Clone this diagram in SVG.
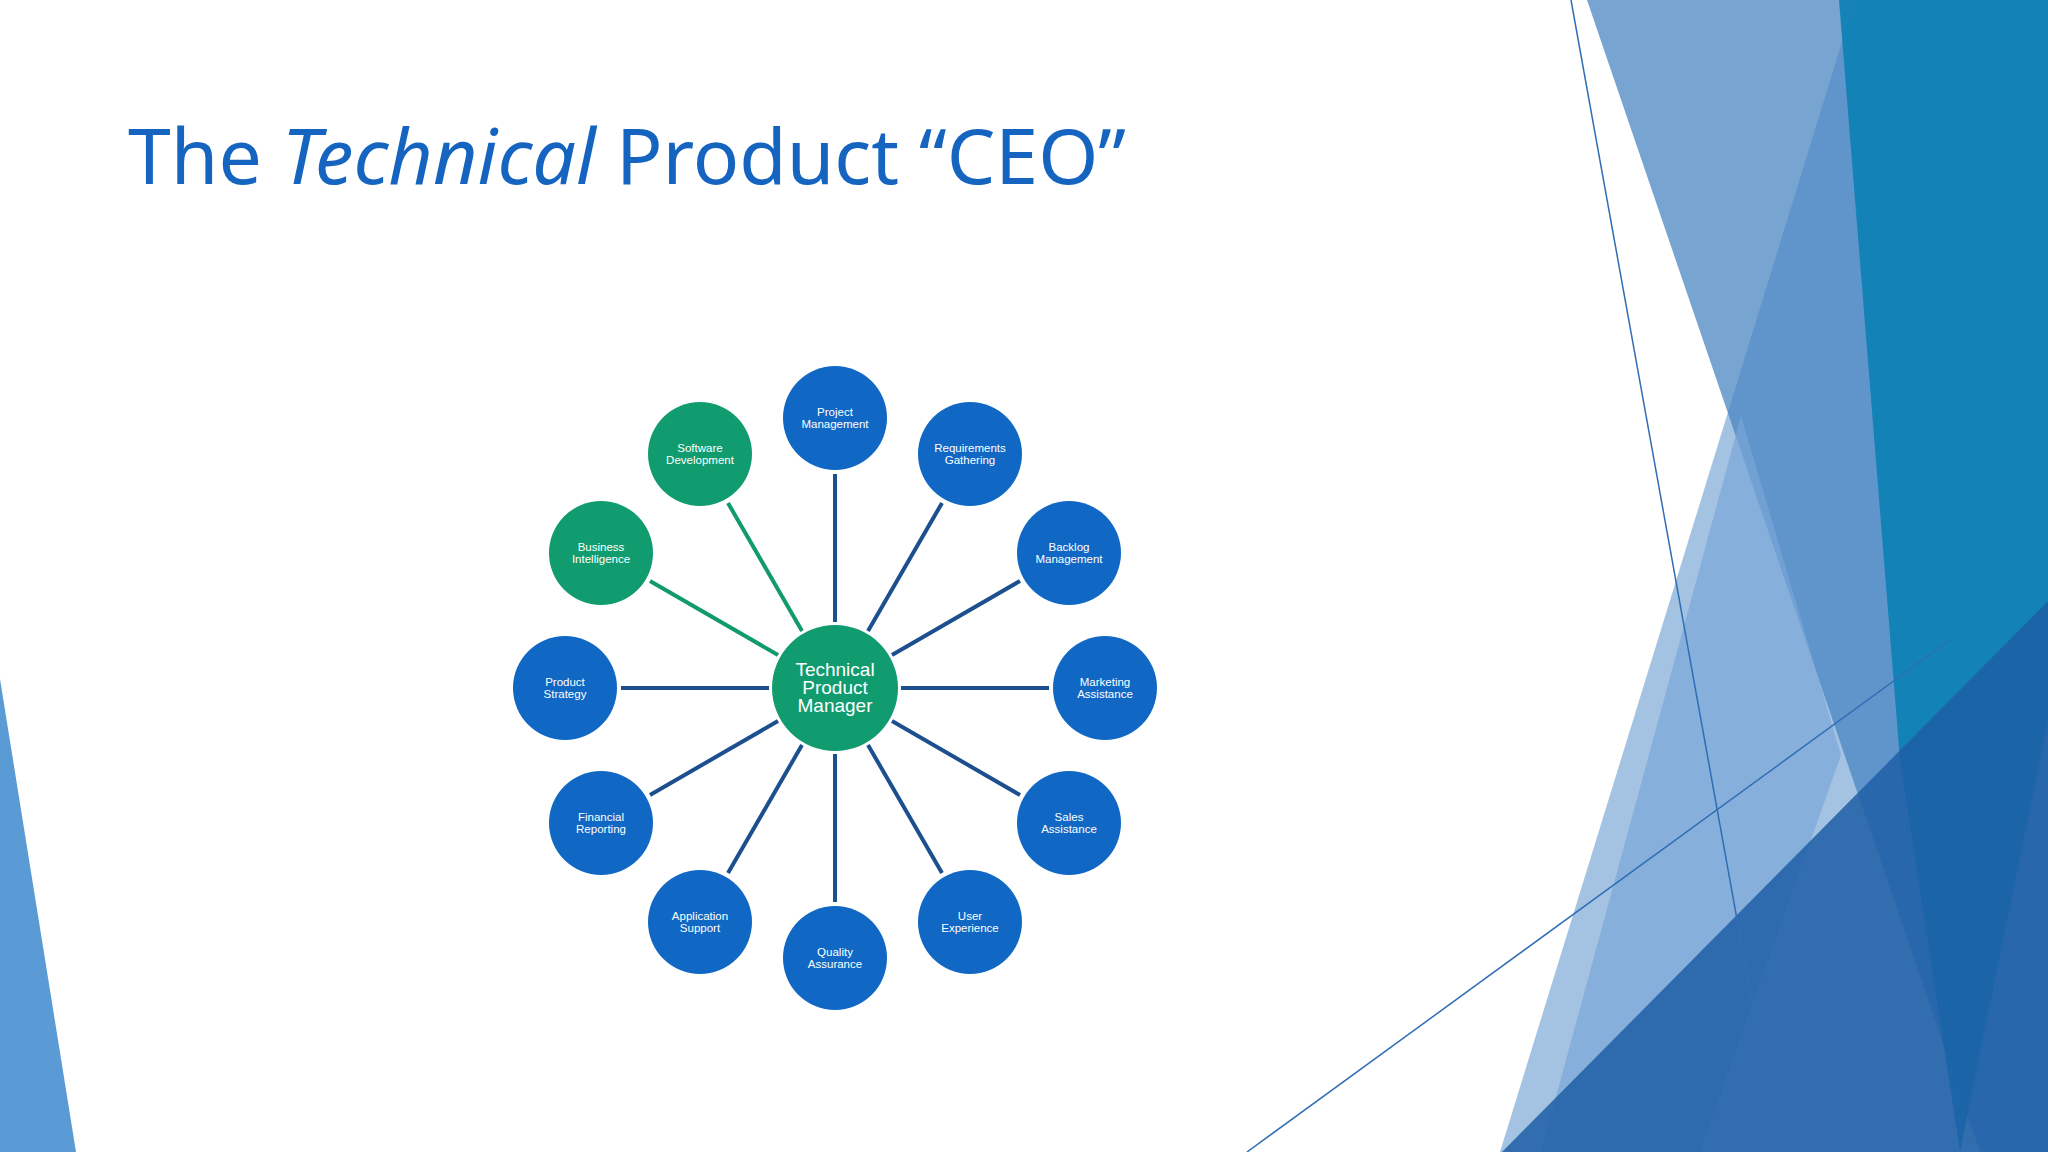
<svg xmlns="http://www.w3.org/2000/svg" width="2048" height="1152" viewBox="0 0 2048 1152">
<style>
.n{fill:#1068C4}.g{fill:#109C6F}
.t{font-family:"Liberation Sans",Arial,sans-serif;fill:#fff;text-anchor:middle;font-size:11.5px}
.c{font-family:"Liberation Sans",Arial,sans-serif;fill:#fff;text-anchor:middle;font-size:19px}
.lb{stroke:#1C4F8E;stroke-width:4}.lg{stroke:#119A6B;stroke-width:4}
</style>
<rect width="2048" height="1152" fill="#fff"/>
<g id="background">
<polygon points="0,679 0,1152 76,1152" fill="#5B9BD5"/>
<polygon points="1587,0 2048,0 2048,1152 1980,1152" fill="#3D7DBE" opacity="0.7"/>
<polygon points="1541,1152 1741,416 1841,755 1700,1152" fill="#A8C8EA" opacity="0.7"/>
<polygon points="1500,1152 1855,0 2048,0 2048,1152" fill="#4A86C5" opacity="0.5"/>
<polygon points="1839,0 2048,0 2048,720 1960,1152 1900,760" fill="#0A7FB5" opacity="0.9"/>
<polygon points="1502,1152 2048,601 2048,1152" fill="#1F5FA6" opacity="0.85"/>
<line x1="1571" y1="0" x2="1779" y2="1152" stroke="#2F6DB5" stroke-width="1.5"/>
<line x1="1247" y1="1152" x2="1950" y2="640" stroke="#2F6DB5" stroke-width="1.5"/>
</g>
<text x="128" y="184" font-family="'Noto Sans','Liberation Sans',sans-serif" font-size="77" fill="#1565C0">The <tspan font-style="italic">Technical</tspan> Product “CEO”</text>
<g id="connectors">
<line class="lb" x1="835" y1="622" x2="835" y2="474"/>
<line class="lb" x1="868" y1="631" x2="942" y2="503"/>
<line class="lb" x1="892" y1="655" x2="1020" y2="581"/>
<line class="lb" x1="901" y1="688" x2="1049" y2="688"/>
<line class="lb" x1="892" y1="721" x2="1020" y2="795"/>
<line class="lb" x1="868" y1="745" x2="942" y2="873"/>
<line class="lb" x1="835" y1="754" x2="835" y2="902"/>
<line class="lb" x1="802" y1="745" x2="728" y2="873"/>
<line class="lb" x1="778" y1="721" x2="650" y2="795"/>
<line class="lb" x1="769" y1="688" x2="621" y2="688"/>
<line class="lg" x1="778" y1="655" x2="650" y2="581"/>
<line class="lg" x1="802" y1="631" x2="728" y2="503"/>
</g>
<g id="center"><circle class="g" cx="835" cy="688" r="63"/><text class="c" x="835" y="676">Technical</text><text class="c" x="835" y="694">Product</text><text class="c" x="835" y="712">Manager</text></g>
<g id="pm"><circle class="n" cx="835" cy="418" r="52"/><text class="t" x="835" y="416">Project</text><text class="t" x="835" y="428">Management</text></g>
<g id="rg"><circle class="n" cx="970" cy="454" r="52"/><text class="t" x="970" y="452">Requirements</text><text class="t" x="970" y="464">Gathering</text></g>
<g id="bm"><circle class="n" cx="1069" cy="553" r="52"/><text class="t" x="1069" y="551">Backlog</text><text class="t" x="1069" y="563">Management</text></g>
<g id="ma"><circle class="n" cx="1105" cy="688" r="52"/><text class="t" x="1105" y="686">Marketing</text><text class="t" x="1105" y="698">Assistance</text></g>
<g id="sa"><circle class="n" cx="1069" cy="823" r="52"/><text class="t" x="1069" y="821">Sales</text><text class="t" x="1069" y="833">Assistance</text></g>
<g id="ux"><circle class="n" cx="970" cy="922" r="52"/><text class="t" x="970" y="920">User</text><text class="t" x="970" y="932">Experience</text></g>
<g id="qa"><circle class="n" cx="835" cy="958" r="52"/><text class="t" x="835" y="956">Quality</text><text class="t" x="835" y="968">Assurance</text></g>
<g id="as"><circle class="n" cx="700" cy="922" r="52"/><text class="t" x="700" y="920">Application</text><text class="t" x="700" y="932">Support</text></g>
<g id="fr"><circle class="n" cx="601" cy="823" r="52"/><text class="t" x="601" y="821">Financial</text><text class="t" x="601" y="833">Reporting</text></g>
<g id="ps"><circle class="n" cx="565" cy="688" r="52"/><text class="t" x="565" y="686">Product</text><text class="t" x="565" y="698">Strategy</text></g>
<g id="bi"><circle class="g" cx="601" cy="553" r="52"/><text class="t" x="601" y="551">Business</text><text class="t" x="601" y="563">Intelligence</text></g>
<g id="sd"><circle class="g" cx="700" cy="454" r="52"/><text class="t" x="700" y="452">Software</text><text class="t" x="700" y="464">Development</text></g>
</svg>
